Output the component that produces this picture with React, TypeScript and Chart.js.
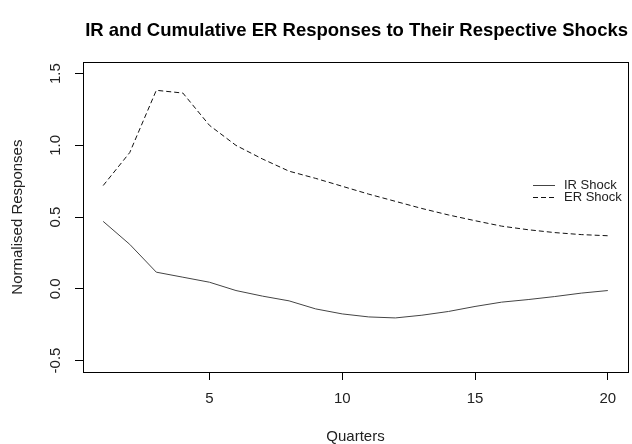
import React, { useEffect, useRef } from "react";
import { Chart, registerables } from "chart.js";

Chart.register(...registerables);

const quarters = [1, 2, 3, 4, 5, 6, 7, 8, 9, 10, 11, 12, 13, 14, 15, 16, 17, 18, 19, 20];
const irShock = [0.47, 0.31, 0.116, 0.081, 0.046, -0.012, -0.051, -0.084, -0.14, -0.175, -0.196, -0.203, -0.184, -0.158, -0.123, -0.093, -0.075, -0.054, -0.03, -0.012];
const erShock = [0.72, 0.95, 1.384, 1.365, 1.14, 1.0, 0.905, 0.82, 0.77, 0.715, 0.66, 0.61, 0.56, 0.515, 0.475, 0.437, 0.412, 0.392, 0.378, 0.37];
const seriesLabels = ["IR Shock", "ER Shock"];
const xTicks = [5, 10, 15, 20];
const yTicks = [-0.5, 0, 0.5, 1.0, 1.5];
const yTickLabels = ["-0.5", "0.0", "0.5", "1.0", "1.5"];
const titleText = "IR and Cumulative ER Responses to Their Respective Shocks";
const xTitle = "Quarters";
const yTitle = "Normalised Responses";

const FONT = '"Liberation Sans", Arial, sans-serif';

const boxPlugin = {
  id: "rBox",
  afterDraw(chart: any) {
    const { ctx, chartArea } = chart;
    const L = Math.round(chartArea.left);
    const T = Math.round(chartArea.top);
    const R = Math.round(chartArea.right);
    const B = Math.round(chartArea.bottom);
    ctx.save();
    ctx.strokeStyle = "#000";
    ctx.lineWidth = 1;
    ctx.setLineDash([]);
    ctx.strokeRect(L + 0.5, T + 0.5, R - L, B - T);
    ctx.restore();
  },
};

const legendPlugin = {
  id: "rLegend",
  afterDraw(chart: any) {
    const { ctx, chartArea } = chart;
    const x0 = Math.round(chartArea.right) - 95;
    ctx.save();
    chart.data.datasets.forEach((ds: any, i: number) => {
      const y = Math.round(chartArea.top) + 123 + i * 12;
      ctx.strokeStyle = ds.borderColor;
      ctx.lineWidth = 1;
      ctx.setLineDash(ds.borderDash || []);
      ctx.beginPath();
      ctx.moveTo(x0, y + 0.5);
      ctx.lineTo(x0 + 22, y + 0.5);
      ctx.stroke();
      ctx.setLineDash([]);
      ctx.fillStyle = "#222";
      ctx.font = `13px ${FONT}`;
      ctx.textBaseline = "middle";
      ctx.textAlign = "left";
      ctx.fillText(ds.label, x0 + 31, y);
    });
    ctx.restore();
  },
};

export default function App() {
  const ref = useRef<HTMLCanvasElement | null>(null);

  useEffect(() => {
    document.body.style.margin = "0";
    if (!ref.current) return;
    Chart.defaults.font.family = FONT;
    const chart = new Chart(ref.current, {
      type: "line",
      data: {
        datasets: [
          {
            label: seriesLabels[0],
            data: quarters.map((q, i) => ({ x: q, y: irShock[i] })),
            borderColor: "#444",
            borderWidth: 1,
            pointRadius: 0,
            tension: 0,
            fill: false,
          },
          {
            label: seriesLabels[1],
            data: quarters.map((q, i) => ({ x: q, y: erShock[i] })),
            borderColor: "#111",
            borderWidth: 1,
            borderDash: [5, 3],
            pointRadius: 0,
            tension: 0,
            fill: false,
          },
        ],
      },
      options: {
        animation: false,
        responsive: false,
        maintainAspectRatio: false,
        devicePixelRatio: 1,
        layout: { padding: { left: 0, right: 4, top: 0, bottom: 0 } },
        plugins: {
          legend: { display: false },
          tooltip: { enabled: false },
          title: {
            display: true,
            align: "end",
            text: titleText,
            color: "#000",
            font: { family: FONT, size: 18.5, weight: "bold" },
            padding: { top: 20, bottom: 20 },
          },
        },
        scales: {
          x: {
            type: "linear",
            min: 0.24,
            max: 20.76,
            afterBuildTicks: (s: any) => {
              s.ticks = xTicks.map((v) => ({ value: v }));
            },
            afterFit: (s: any) => {
              s.height = 72;
            },
            ticks: {
              autoSkip: false,
              maxRotation: 0,
              minRotation: 0,
              padding: 10,
              color: "#222",
              font: { family: FONT, size: 15 },
              callback: (v: any) => String(v),
            },
            grid: {
              display: true,
              drawOnChartArea: false,
              drawTicks: true,
              tickLength: 8,
              color: "#000",
              lineWidth: 1,
            },
            border: { display: false },
            title: {
              display: true,
              text: xTitle,
              color: "#222",
              font: { family: FONT, size: 15 },
              padding: { top: 0, bottom: -2 },
            },
          },
          y: {
            type: "linear",
            min: -0.58,
            max: 1.58,
            afterBuildTicks: (s: any) => {
              s.ticks = yTicks.map((v) => ({ value: v }));
            },
            afterFit: (s: any) => {
              s.width = 83;
            },
            ticks: {
              autoSkip: false,
              minRotation: 90,
              maxRotation: 90,
              crossAlign: "center",
              padding: 6,
              color: "#222",
              font: { family: FONT, size: 15 },
              callback: (v: any) => {
                const idx = yTicks.findIndex((t) => Math.abs(t - v) < 1e-9);
                return idx >= 0 ? yTickLabels[idx] : "";
              },
            },
            grid: {
              display: true,
              drawOnChartArea: false,
              drawTicks: true,
              tickLength: 8,
              color: "#000",
              lineWidth: 1,
            },
            border: { display: false },
            title: {
              display: true,
              text: yTitle,
              color: "#222",
              font: { family: FONT, size: 15 },
              padding: { top: 9, bottom: 0 },
            },
          },
        },
      },
      plugins: [boxPlugin, legendPlugin],
    } as any);
    return () => chart.destroy();
  }, []);

  return (
    <div style={{ width: 632, height: 444 }}>
      <canvas ref={ref} width={632} height={444} style={{ display: "block" }} />
    </div>
  );
}
